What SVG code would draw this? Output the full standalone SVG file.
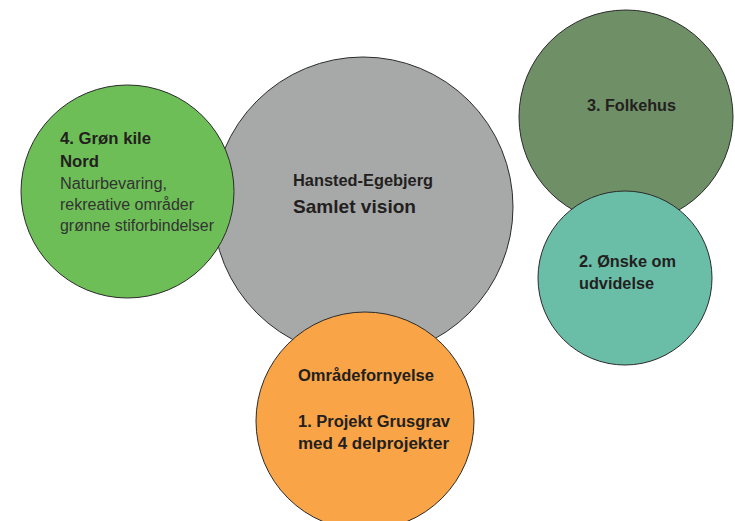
<svg xmlns="http://www.w3.org/2000/svg" width="735" height="521" viewBox="0 0 735 521">
<style>
.c{stroke:#2b2b2b;stroke-width:1}
.b{font-family:"Liberation Sans",Arial,sans-serif;font-weight:bold;font-size:16px;fill:#231f20}
.r{font-family:"Liberation Sans",Arial,sans-serif;font-size:16px;fill:#333333}
</style>
<rect width="735" height="521" fill="#ffffff"/>
<g id="connectors"></g>
<g id="vision">
<circle class="c" cx="363" cy="207" r="150" fill="#a7a9a9"/>
<text class="b" x="293" y="186" textLength="140" lengthAdjust="spacingAndGlyphs">Hansted-Egebjerg</text>
<text class="b" x="293" y="213" style="font-size:19px" textLength="123" lengthAdjust="spacingAndGlyphs">Samlet vision</text>
</g>
<g id="groen-kile">
<circle class="c" cx="127.5" cy="191.5" r="106.5" fill="#6dbe56"/>
<text class="b" x="60" y="144" textLength="91" lengthAdjust="spacingAndGlyphs">4. Grøn kile</text>
<text class="b" x="60" y="167" textLength="39" lengthAdjust="spacingAndGlyphs">Nord</text>
<text class="r" x="60" y="189" textLength="107" lengthAdjust="spacingAndGlyphs">Naturbevaring,</text>
<text class="r" x="60" y="210" textLength="134" lengthAdjust="spacingAndGlyphs">rekreative områder</text>
<text class="r" x="60" y="231" textLength="154" lengthAdjust="spacingAndGlyphs">grønne stiforbindelser</text>
</g>
<g id="folkehus">
<circle class="c" cx="626" cy="117" r="107" fill="#6f9066"/>
<text class="b" x="587" y="111" textLength="89" lengthAdjust="spacingAndGlyphs">3. Folkehus</text>
</g>
<g id="udvidelse">
<circle class="c" cx="625" cy="278" r="87" fill="#6abda6"/>
<text class="b" x="579" y="267" textLength="97" lengthAdjust="spacingAndGlyphs">2. Ønske om</text>
<text class="b" x="579" y="289" textLength="75" lengthAdjust="spacingAndGlyphs">udvidelse</text>
</g>
<g id="omraadefornyelse">
<circle class="c" cx="365" cy="421" r="109" fill="#f9a446"/>
<text class="b" x="298" y="381" textLength="136" lengthAdjust="spacingAndGlyphs">Områdefornyelse</text>
<text class="b" x="298" y="427" textLength="152" lengthAdjust="spacingAndGlyphs">1. Projekt Grusgrav</text>
<text class="b" x="298" y="449" textLength="151" lengthAdjust="spacingAndGlyphs">med 4 delprojekter</text>
</g>
</svg>
